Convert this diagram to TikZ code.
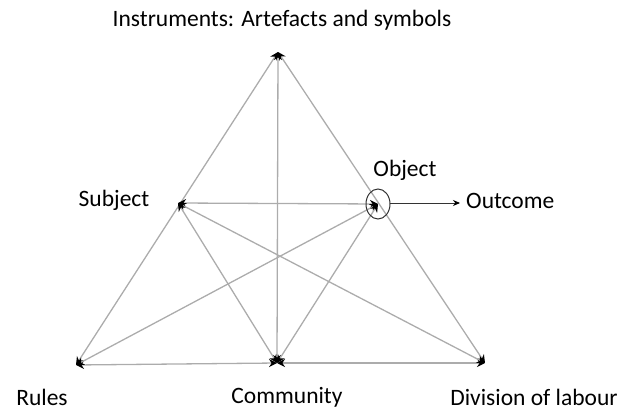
\documentclass[tikz,border=0pt]{standalone}
\usepackage{fontspec}
\setmainfont{Carlito}
\usetikzlibrary{arrows.meta}
\tikzset{aline/.style={draw,gray!65,line width=1.3pt,{Stealth[black,length=8pt,width=8pt]}-{Stealth[black,length=8pt,width=8pt]}}}
\tikzset{oline/.style={draw,black!80,line width=0.9pt,-{Stealth[black,length=7pt,width=6pt]}}}
\tikzset{lbl/.style={font=\fontsize{23.5}{28}\selectfont,inner sep=0pt}}

\begin{document}
\begin{tikzpicture}[x=1pt,y=-1pt]
    \useasboundingbox (0,0) rectangle (622,412);
    % vertices
    \coordinate (T) at (278,52);
    \coordinate (S) at (178,203);
    \coordinate (O) at (378,204);
    \coordinate (R) at (76,365);
    \coordinate (C) at (277,363);
    \coordinate (D) at (485,363);
    \coordinate (out) at (460,203);

    \foreach \a/\b in {T/R,T/D,T/C,R/C,D/C,O/S,R/O,D/S,C/S,C/O}{
      \draw[aline] (\a) -- (\b);
    }
    \draw[black!80,line width=1pt] (O) ellipse (12pt and 15pt);
    \coordinate (oe) at (390,203);
    \draw[oline] (oe) -- (out);

    % labels
    \node[lbl] (tl) at (282,20) {Instruments: Artefacts and symbols};
    \node[lbl] (sl) at (114,200) {Subject};
    \node[lbl] (ol) at (405,170) {Object};
    \node[lbl,anchor=west] (outl) at (466,201) {Outcome};
    \node[lbl] (rl) at (42,397) {Rules};
    \node[lbl] (cl) at (287,397) {Community};
    \node[lbl] (dl) at (534,397) {Division of labour};
\end{tikzpicture}
\end{document}
